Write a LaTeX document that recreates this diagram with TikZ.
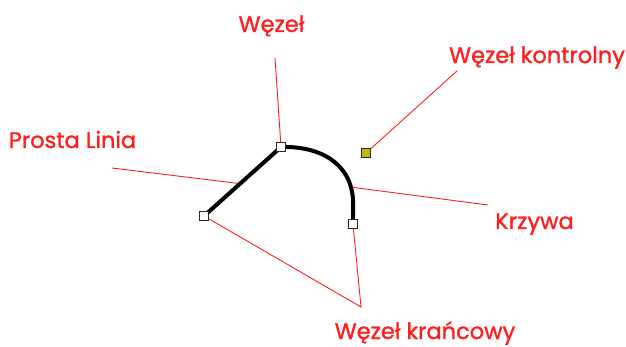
\documentclass[tikz,border=0pt]{standalone}
\usepackage{fontspec}
\setmainfont{Poppins}[FakeBold=1.2]
\definecolor{lblred}{RGB}{255,30,30}
\definecolor{olive}{RGB}{190,185,0}
\begin{document}
\begin{tikzpicture}[x=1pt,y=-1pt,
  lbl/.style={text=lblred,font=\fontsize{22.5}{26}\selectfont,inner sep=0pt,anchor=base},
  pointer/.style={draw=lblred,line width=0.9pt},
  handle/.style={draw=black!85,line width=1.2pt,fill=white,minimum size=9pt,inner sep=0pt,rectangle},
  ctrl/.style={handle,fill=olive}]
\useasboundingbox (0,0) rectangle (626,347);
% labels
\node[lbl] (lw) at (271.5,32) {Węzeł};
\node[lbl] (lp) at (72.5,148) {Prosta Linia};
\node[lbl] (lk) at (537,63) {Węzeł kontrolny};
\node[lbl] (lc) at (534.5,229) {Krzywa};
\node[lbl] (le) at (425,339) {Węzeł krańcowy};
% anchor points of pointers
\coordinate (pw) at (275,58);
\coordinate (pp1) at (112,168);
\coordinate (pp2) at (243,184);
\coordinate (pk) at (457,71);
\coordinate (pc1) at (350,187);
\coordinate (pc2) at (488,205);
\coordinate (pe) at (361,307);
% handles
\node[handle] (L) at (204,216) {};
\node[handle] (T) at (281,147) {};
\node[handle] (R) at (353,224) {};
\node[ctrl] (C) at (366,153) {};
% pointers
\draw[pointer] (pw) -- (T);
\draw[pointer] (pp1) -- (pp2);
\draw[pointer] (pk) -- (C);
\draw[pointer] (pc1) -- (pc2);
\draw[pointer] (L) -- (pe) -- (R);
% curve
\draw[line width=4pt,line join=round] (L.center) -- (T.center) .. controls (320,146) and (351,163) .. (353,200) -- (R.center);
% redraw handles on top
\node[handle] at (L) {};
\node[handle] at (T) {};
\node[handle] at (R) {};
\end{tikzpicture}
\end{document}
